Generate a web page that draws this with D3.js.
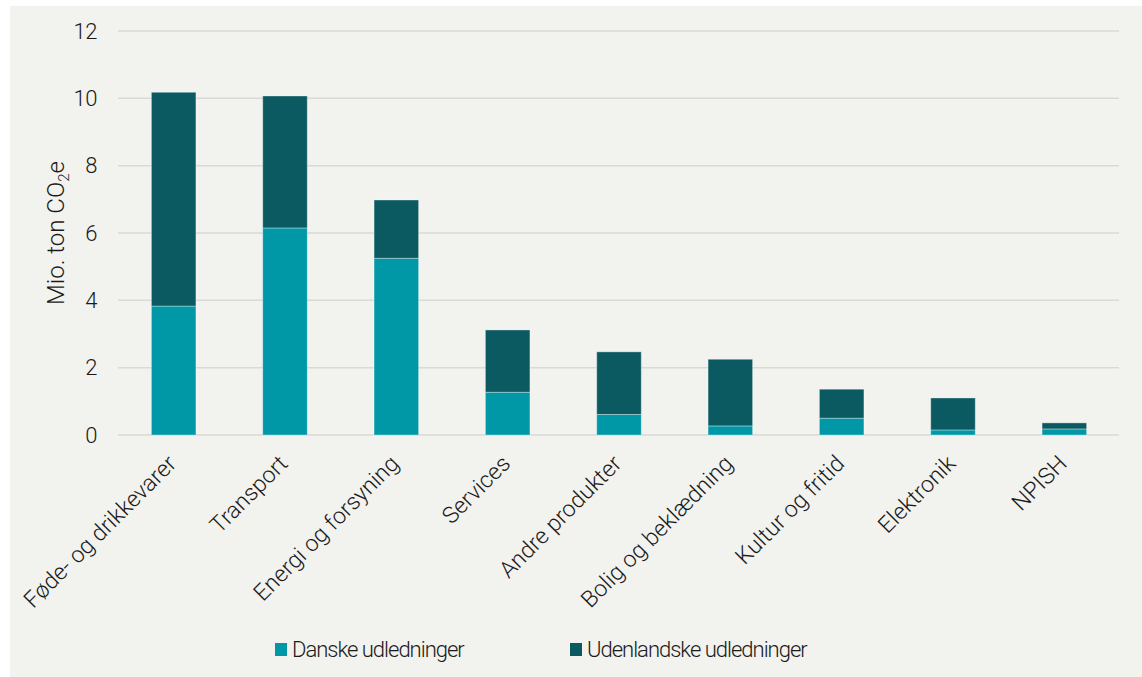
<!DOCTYPE html>
<html>
<head>
<meta charset="utf-8">
<script src="https://cdn.jsdelivr.net/npm/d3@7"></script>
<style>
  body { margin: 0; background: #ffffff; }
  text { font-family: Roboto, "Noto Sans", sans-serif; font-weight: 300; fill: #1a1a1a; }
</style>
</head>
<body>
<div id="container"></div>
<script>
// Categories and values (mio. ton CO2e)
var categories = ["Føde- og drikkevarer", "Transport", "Energi og forsyning", "Services",
                  "Andre produkter", "Bolig og beklædning", "Kultur og fritid", "Elektronik", "NPISH"];
var danske = [3.83, 6.15, 5.25, 1.27, 0.61, 0.27, 0.50, 0.15, 0.18];
var udenlandske = [6.35, 3.92, 1.73, 1.85, 1.86, 1.98, 0.86, 0.95, 0.18];
var yTicks = [0, 2, 4, 6, 8, 10, 12];
var seriesNames = ["Danske udledninger", "Udenlandske udledninger"];
var seriesColors = ["#0097a7", "#0c5a61"];

var width = 1142,
    height = 677;

var margin = {top: 31, left: 118, right: 22, bottom: 242};

var svg = d3.select("#container")
            .append("svg")
              .attr("width", width)
              .attr("height", height);

// Panel background
svg.append("rect")
  .attr("x", 10)
  .attr("y", 6)
  .attr("width", width - 10)
  .attr("height", height - 6)
  .attr("fill", "#f2f2ee");

// Scales
var x = d3.scaleBand()
          .domain(categories)
          .range([margin.left, width - margin.right])
          .paddingInner(0.6)
          .paddingOuter(0.3);

var y = d3.scaleLinear()
          .domain([0, 12])
          .range([height - margin.bottom, margin.top]);

// Gridlines
svg.append("g")
  .selectAll("line")
  .data(yTicks)
  .enter()
  .append("line")
    .attr("x1", margin.left)
    .attr("x2", width - margin.right - 1)
    .attr("y1", function(d) { return y(d); })
    .attr("y2", function(d) { return y(d); })
    .attr("stroke", "#d9d9d6")
    .attr("stroke-width", 1.5);

// Y axis labels
var yAxis = svg.append("g")
  .attr("transform", "translate(" + (margin.left - 21) + ",0)")
  .call(d3.axisLeft(y).tickValues(yTicks).tickSize(0).tickPadding(0));
yAxis.select(".domain").remove();
yAxis.selectAll("text")
  .style("font-size", "22px")
  .style("font-family", "Roboto, sans-serif")
  .style("font-weight", 300)
  .style("letter-spacing", "-0.5px")
  .attr("fill", "#1a1a1a");

// Y axis title
var yTitle = svg.append("text")
  .attr("transform", "translate(64,233) rotate(-90)")
  .attr("text-anchor", "middle")
  .style("font-size", "24px");
yTitle.append("tspan").text("Mio. ton CO");
yTitle.append("tspan").text("2").attr("dy", 5).style("font-size", "15px");
yTitle.append("tspan").text("e").attr("dy", -5);

// Stacked data
var stackData = categories.map(function(c, i) {
  return {cat: c, danske: danske[i], udenlandske: udenlandske[i]};
});
var stack = d3.stack().keys(["danske", "udenlandske"]);
var series = stack(stackData);

svg.append("g")
  .selectAll("g")
  .data(series)
  .enter()
  .append("g")
    .attr("fill", function(d, i) { return seriesColors[i]; })
  .selectAll("rect")
  .data(function(d) { return d; })
  .enter()
  .append("rect")
    .attr("x", function(d) { return x(d.data.cat); })
    .attr("y", function(d) { return y(d[1]); })
    .attr("width", x.bandwidth())
    .attr("height", function(d) { return y(d[0]) - y(d[1]); })
    .attr("stroke", "rgba(255,255,255,0.35)")
    .attr("stroke-width", 1);

// Category labels
svg.append("g")
  .selectAll("text")
  .data(categories)
  .enter()
  .append("text")
    .attr("transform", function(d) {
      return "translate(" + (x(d) + x.bandwidth() / 2 + 4) + "," + (y(0) + 30) + ") rotate(-45)";
    })
    .attr("text-anchor", "end")
    .style("font-size", "23px")
    .text(function(d) { return d; });

// Legend
var legendX = [275, 570];
var legend = svg.append("g")
  .selectAll("g")
  .data(seriesNames)
  .enter()
  .append("g")
    .attr("transform", function(d, i) { return "translate(" + legendX[i] + ",643)"; });

legend.append("rect")
  .attr("width", 12)
  .attr("height", 13)
  .attr("fill", function(d, i) { return seriesColors[i]; });

legend.append("text")
  .attr("x", 17)
  .attr("y", 14)
  .style("font-size", "22px")
  .style("letter-spacing", "-1px")
  .text(function(d) { return d; });
</script>
</body>
</html>
